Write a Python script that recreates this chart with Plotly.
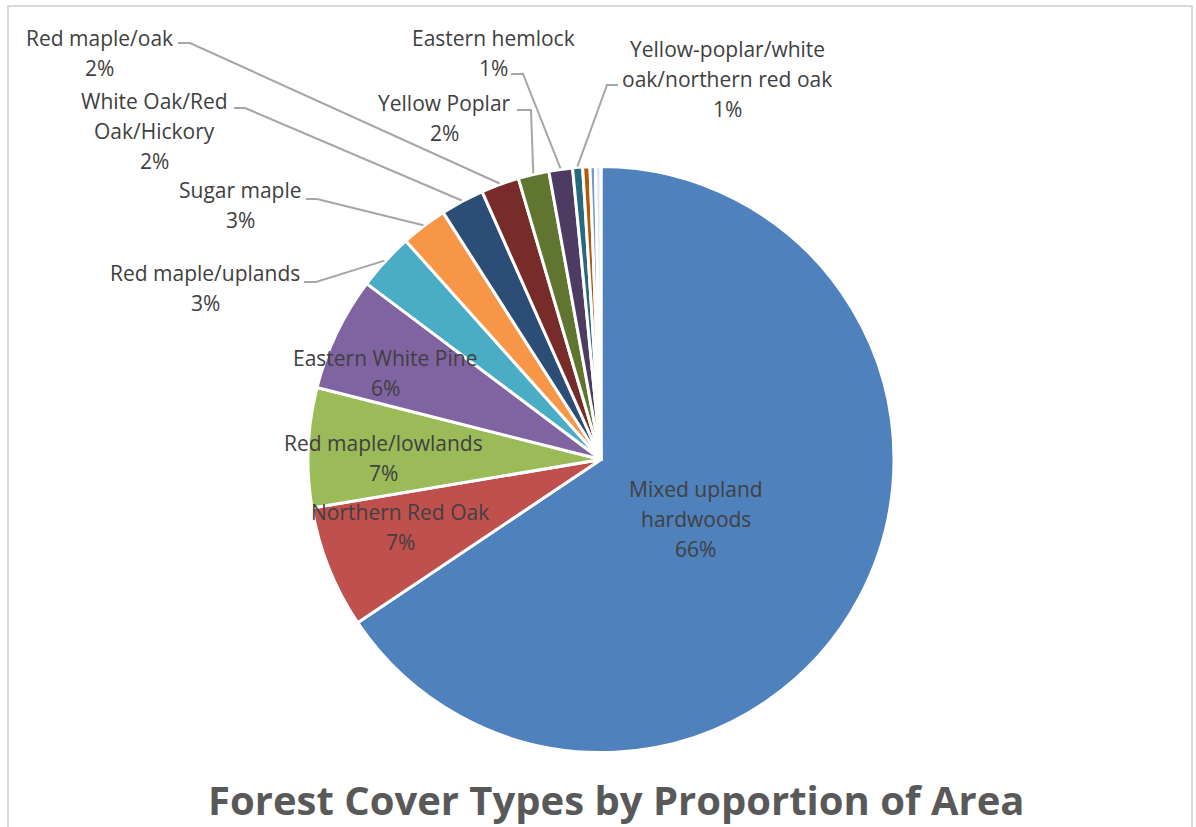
import math
import plotly.graph_objects as go

# ---------------- data ----------------
cover_types = [
    "Mixed upland hardwoods",
    "Northern Red Oak",
    "Red maple/lowlands",
    "Eastern White Pine",
    "Red maple/uplands",
    "Sugar maple",
    "White Oak/Red Oak/Hickory",
    "Red maple/oak",
    "Yellow Poplar",
    "Eastern hemlock",
    "Yellow-poplar/white oak/northern red oak",
    "Other type A",
    "Other type B",
    "Other type C",
]
area_share = [65.6, 6.75, 6.6, 6.3, 3.15, 2.55, 2.4, 2.1, 1.7, 1.3, 0.55, 0.4, 0.3, 0.3]
slice_colors = ["#4F81BD", "#C0504D", "#9BBB59", "#8064A2", "#4BACC6", "#F79646",
                "#2C4D75", "#772C2A", "#5F7530", "#4D3B62", "#276A7C", "#B65708",
                "#729ACA", "#DCE6F2"]
# how each shown label is broken into lines (None = no label)
label_lines = [
    ["Mixed upland", "hardwoods"],
    ["Northern Red Oak"],
    ["Red maple/lowlands"],
    ["Eastern White Pine"],
    ["Red maple/uplands"],
    ["Sugar maple"],
    ["White Oak/Red", "Oak/Hickory"],
    ["Red maple/oak"],
    ["Yellow Poplar"],
    ["Eastern hemlock"],
    ["Yellow-poplar/white", "oak/northern red oak"],
    None, None, None,
]
title_text = "Forest Cover Types by Proportion of Area"

# ---------------- layout constants (pixels) ----------------
W, H = 1196, 827
CX, CY, R = 601.0, 459.5, 293.0
LINE_GAP = 30
TEXT_COLOR = "#404040"
FONT = "Open Sans"
FS = 21

# label block positions: (center x, y of first line)
label_pos = [
    (696, 489), (400, 512), (383, 443), (385, 358), (205, 273), (240, 190),
    (154, 101), (99, 38), (445, 103), (493, 38), (727, 49), None, None, None,
]
# leader lines: (start x, start y, elbow x) ; end computed from the slice
leaders = [
    None, None, None, None,
    (304, 282, 316), (306, 199, 317), (234, 108, 245), (178, 43, 190),
    (517, 110, 531), (511, 74, 523), (618, 85, 607), None, None, None,
]


def px(x, y):
    return x / W, 1 - y / H


fig = go.Figure()
fig.add_trace(go.Pie(
    labels=cover_types,
    values=area_share,
    sort=False,
    direction="clockwise",
    rotation=0,
    marker=dict(colors=slice_colors, line=dict(color="white", width=3)),
    textinfo="none",
    hoverinfo="label+percent",
    showlegend=False,
    domain=dict(x=[(CX - R) / W, (CX + R) / W], y=[1 - (CY + R) / H, 1 - (CY - R) / H]),
))

total = sum(area_share)
annotations = []
shapes = []
cum = 0.0
for i, v in enumerate(area_share):
    mid = (cum + v / 2) / total * 2 * math.pi
    cum += v
    if label_lines[i] is None:
        continue
    pct = f"{int(math.floor(v / total * 100 + 0.5))}%"
    lines = label_lines[i] + [pct]
    lx, ly = label_pos[i]
    for k, t in enumerate(lines):
        xx, yy = px(lx, ly + k * LINE_GAP)
        annotations.append(dict(x=xx, y=yy, xref="paper", yref="paper", text=t,
                                showarrow=False, xanchor="center", yanchor="middle",
                                font=dict(family=FONT, size=FS, color=TEXT_COLOR)))
    if leaders[i] is not None:
        sx, sy, ex = leaders[i]
        tx = CX + (R + 1) * math.sin(mid)
        ty = CY - (R + 1) * math.cos(mid)
        p0 = px(sx, sy)
        p1 = px(ex, sy)
        p2 = px(tx, ty)
        shapes.append(dict(type="path", xref="paper", yref="paper",
                           path=f"M {p0[0]} {p0[1]} L {p1[0]} {p1[1]} L {p2[0]} {p2[1]}",
                           line=dict(color="#A6A6A6", width=2)))

# chart border
b0 = px(8, 6)
b1 = px(1192, 840)
shapes.append(dict(type="rect", xref="paper", yref="paper", x0=b0[0], y0=b1[1], x1=b1[0], y1=b0[1],
                   line=dict(color="#D9D9D9", width=2), fillcolor="rgba(0,0,0,0)"))

tx, ty = px(616, 799)
annotations.append(dict(x=tx, y=ty, xref="paper", yref="paper", text=f"<b>{title_text}</b>",
                        showarrow=False, xanchor="center", yanchor="middle",
                        font=dict(family=FONT, size=40, color="#595959")))

fig.update_layout(
    width=W, height=H,
    margin=dict(l=0, r=0, t=0, b=0),
    paper_bgcolor="white",
    plot_bgcolor="white",
    annotations=annotations,
    shapes=shapes,
)

fig.write_html("out.html")
